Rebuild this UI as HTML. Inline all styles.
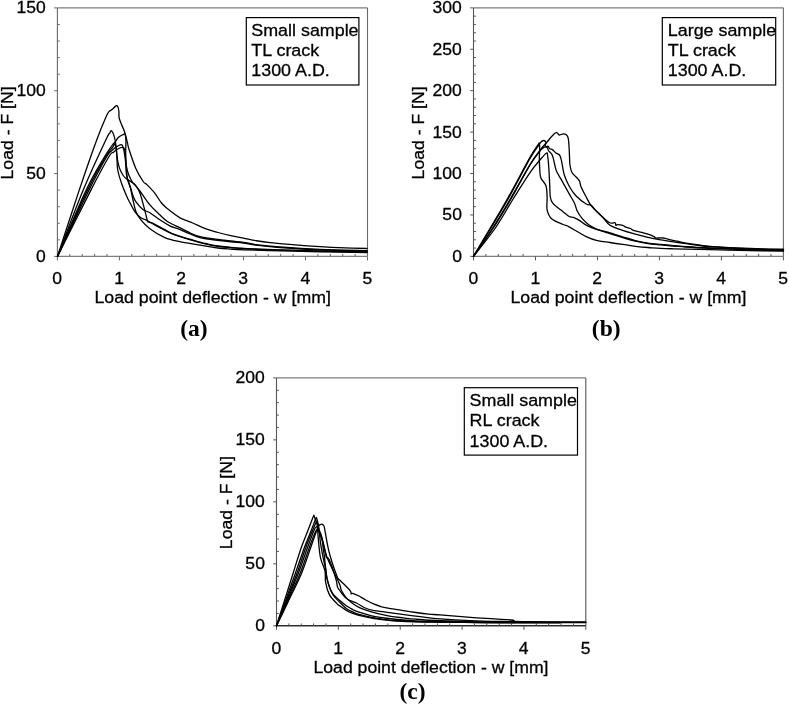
<!DOCTYPE html>
<html lang="en">
<head>
<meta charset="utf-8">
<title>Load - deflection curves</title>
<style>
html, body { margin: 0; padding: 0; background: #fff; }
body { width: 789px; height: 704px; overflow: hidden; }
svg { display: block; }
text { fill: #000; }
.t, .l { font-family: "Liberation Sans", Arial, Helvetica, sans-serif; stroke: #000; stroke-width: 0.3px; }
.t { font-size: 17.2px; }
.l { font-size: 17.3px; }
.c { font-family: "Liberation Serif", "Times New Roman", Times, serif; font-size: 23.5px; font-weight: bold; }
</style>
</head>
<body>
<svg width="789" height="704" viewBox="0 0 789 704">
<rect width="789" height="704" fill="#fff"/>
<g id="plot-a">
<path d="M57.4 7.9H367.5" fill="none" stroke="#7d7d7d" stroke-width="1.1"/>
<path d="M367.5 7.9V256.4" fill="none" stroke="#6a6a6a" stroke-width="1.1"/>
<path d="M57.4 7.9V256.4" fill="none" stroke="#686868" stroke-width="1.1"/>
<path d="M57.4 256.4H367.5" fill="none" stroke="#7d7d7d" stroke-width="1.1"/>
<path d="M57.4 256.4v4M69.8 256.4v-2.4M82.21 256.4v-2.4M94.61 256.4v-2.4M107.02 256.4v-2.4M119.42 256.4v4M131.82 256.4v-2.4M144.23 256.4v-2.4M156.63 256.4v-2.4M169.04 256.4v-2.4M181.44 256.4v4M193.84 256.4v-2.4M206.25 256.4v-2.4M218.65 256.4v-2.4M231.06 256.4v-2.4M243.46 256.4v4M255.86 256.4v-2.4M268.27 256.4v-2.4M280.67 256.4v-2.4M293.08 256.4v-2.4M305.48 256.4v4M317.88 256.4v-2.4M330.29 256.4v-2.4M342.69 256.4v-2.4M355.1 256.4v-2.4M367.5 256.4v4M57.4 256.4h-3.3M57.4 239.83h2.4M57.4 223.27h2.4M57.4 206.7h2.4M57.4 190.13h2.4M57.4 173.57h-3.3M57.4 157h2.4M57.4 140.43h2.4M57.4 123.87h2.4M57.4 107.3h2.4M57.4 90.73h-3.3M57.4 74.17h2.4M57.4 57.6h2.4M57.4 41.03h2.4M57.4 24.47h2.4M57.4 7.9h-3.3" fill="none" stroke="#686868" stroke-width="1"/>
<text class="t" x="57.2" y="284" text-anchor="middle" textLength="9.75" lengthAdjust="spacingAndGlyphs">0</text>
<text class="t" x="119.22" y="284" text-anchor="middle" textLength="9.75" lengthAdjust="spacingAndGlyphs">1</text>
<text class="t" x="181.24" y="284" text-anchor="middle" textLength="9.75" lengthAdjust="spacingAndGlyphs">2</text>
<text class="t" x="243.26" y="284" text-anchor="middle" textLength="9.75" lengthAdjust="spacingAndGlyphs">3</text>
<text class="t" x="305.28" y="284" text-anchor="middle" textLength="9.75" lengthAdjust="spacingAndGlyphs">4</text>
<text class="t" x="367.3" y="284" text-anchor="middle" textLength="9.75" lengthAdjust="spacingAndGlyphs">5</text>
<text class="t" x="45.8" y="261.8" text-anchor="end" textLength="9.75" lengthAdjust="spacingAndGlyphs">0</text>
<text class="t" x="45.8" y="178.97" text-anchor="end" textLength="19.51" lengthAdjust="spacingAndGlyphs">50</text>
<text class="t" x="45.8" y="96.13" text-anchor="end" textLength="29.26" lengthAdjust="spacingAndGlyphs">100</text>
<text class="t" x="45.8" y="13.3" text-anchor="end" textLength="29.26" lengthAdjust="spacingAndGlyphs">150</text>
<text class="l" x="212.7" y="303" text-anchor="middle" textLength="236.5" lengthAdjust="spacingAndGlyphs">Load point deflection - w [mm]</text>
<text class="l" transform="translate(13.1 132.95) rotate(-90)" text-anchor="middle" textLength="93" lengthAdjust="spacingAndGlyphs">Load - F [N]</text>
<g fill="none" stroke="#000" stroke-width="1.3" stroke-linejoin="round" stroke-linecap="round">
<path d="M57.5 256.4C61.1 245.5 72.4 210.5 78.9 191.1C85.4 171.7 92.1 152.5 96.7 140C101.3 127.5 104.3 120.8 106.4 116C108.5 111.2 108.3 112.5 109.2 111.4C110.1 110.3 110.9 110.5 112 109.6C113.1 108.7 115 106.3 116 105.8C117 105.3 117.2 105.6 117.7 106.5C118.2 107.4 118.7 109.4 118.9 111.3C119.1 113.2 118.7 115.7 119.1 117.7C119.5 119.7 120.1 120.9 121.1 123.4C122 125.9 123.8 129.3 124.8 132.5C125.8 135.7 126.7 139.8 127.4 142.7C128.1 145.6 127.8 145.8 129.2 150C130.6 154.2 133.3 162.7 135.6 167.9C137.9 173.2 141.3 178.7 143.2 181.5C145.1 184.3 145 182.7 146.9 184.6C148.8 186.5 152.4 190.1 154.8 193.2C157.2 196.3 159.4 200.4 161.5 203C163.6 205.6 164.4 206.3 167.5 208.8C170.6 211.3 175.8 215.5 180 217.9C184.2 220.3 188.5 221.2 192.7 223C196.9 224.8 201.1 227.1 205.3 228.7C209.5 230.3 213.8 231.3 218 232.5C222.2 233.7 226.5 234.7 230.7 235.6C234.9 236.5 239.2 237.3 243.4 238.2C247.6 239 251.6 240 256 240.7C260.4 241.4 263.5 241.9 270 242.6C276.5 243.3 286.7 244.1 295 244.8C303.3 245.5 311.7 246.1 320 246.6C328.3 247.1 337.2 247.5 345 247.8C352.8 248.1 363.3 248.4 367 248.5"/>
<path d="M57.5 256.4C61.7 245.5 74.8 210.5 82.8 191.1C90.8 171.7 101.3 149.7 105.8 140C110.3 130.3 108.9 134.6 109.8 133C110.7 131.4 110.7 130.5 111.3 130.6C111.9 130.7 112.5 131.9 113.2 133.6C113.9 135.2 114.7 137.8 115.2 140.5C115.7 143.2 116.1 146.5 116.4 149.5C116.7 152.5 116.8 155.2 117 158.6C117.2 162 117 165.9 117.7 170C118.5 174.1 120 178.9 121.5 183.2C123 187.5 125.2 192.7 126.6 196C128 199.3 128.6 200.3 130 202.9C131.4 205.5 133.2 209.3 135 211.8C136.8 214.3 139.1 216.5 140.9 217.8C142.7 219.1 144.1 218.9 145.9 219.8C147.7 220.7 149.2 221.8 151.9 223.3C154.6 224.8 158.5 227 161.8 228.7C165.1 230.4 167.1 231.9 171.7 233.7C176.3 235.5 184.9 238.2 189.6 239.7C194.3 241.2 197.4 242 200 242.7C202.6 243.4 202.3 243.3 205.3 243.9C208.3 244.5 213.8 245.8 218 246.4C222.2 247 226.5 247.3 230.7 247.7C234.9 248.1 239.2 248.3 243.4 248.6C247.6 248.9 249.9 249 256 249.3C262.1 249.6 269.3 249.9 280 250.2C290.7 250.5 305.5 250.9 320 251.2C334.5 251.5 359.2 251.9 367 252"/>
<path d="M57.5 256.4C62.2 245.5 77.9 207.7 85.7 191.1C93.5 174.5 100 164.6 104.4 157C108.8 149.4 110.2 148.1 112 145.5C113.8 142.9 114.5 142.8 115.5 141.5C116.5 140.2 117 138.7 118.3 137.5C119.6 136.3 122.3 135 123.4 134.4C124.5 133.8 124.7 133.2 125.1 134.2C125.5 135.2 125.8 137.6 125.9 140.5C126 143.4 125.7 148.1 125.7 151.8C125.7 155.5 125.7 158.4 126 162.8C126.3 167.2 126.5 173.8 127.3 178.1C128.1 182.4 129.6 184.8 130.5 188.4C131.4 192.1 132.1 196.1 133 200C133.9 203.9 134.7 208.5 136 211.8C137.3 215.1 138.6 217 140.9 219.8C143.2 222.6 145.9 225.7 149.9 228.7C153.9 231.7 159.8 235.5 164.8 237.7C169.8 239.9 173.8 240.5 179.7 241.7C185.6 242.9 193.6 244 200 245.1C206.4 246.2 212.9 247.3 218 248C223.1 248.7 226.5 248.8 230.7 249.1C234.9 249.4 235.2 249.5 243.4 249.8C251.6 250.1 267.2 250.5 280 250.8C292.8 251.1 305.5 251.5 320 251.8C334.5 252.1 359.2 252.4 367 252.5"/>
<path d="M57.5 256.4C62.7 245.5 80.3 207.7 88.5 191.1C96.7 174.5 102.6 163.8 106.5 157C110.4 150.2 110.3 152.2 112 150.5C113.7 148.8 115.3 147.5 116.9 146.5C118.5 145.5 120.4 144.3 121.5 144.6C122.6 144.9 122.9 146.4 123.5 148.5C124.1 150.6 124.6 154.2 125 157C125.4 159.8 125.6 162.5 125.9 165.6C126.2 168.7 125.9 172.1 126.7 175.8C127.5 179.5 129.5 184.3 130.6 187.7C131.7 191.1 132.2 193.6 133.1 196C134 198.4 134.4 199.7 136 201.9C137.6 204.1 140.6 207.6 142.9 209.4C145.2 211.2 147.1 211.1 149.9 212.8C152.7 214.5 156.5 217.6 159.8 219.8C163.1 222 166.8 224.3 169.8 225.8C172.8 227.3 174.4 227.4 177.7 228.7C181 230 185.9 232.2 189.6 233.7C193.3 235.2 196.3 236.7 200 237.7C203.7 238.7 206.6 238.8 211.7 239.5C216.8 240.2 225.4 241.2 230.7 241.8C236 242.4 239.2 242.4 243.4 243C247.6 243.6 249.9 244.4 256 245.2C262.1 246 269.3 246.8 280 247.6C290.7 248.4 305.5 249.2 320 249.8C334.5 250.4 359.2 250.8 367 251"/>
<path d="M57.5 256.4C63 245.5 81.9 207.7 90.4 191.1C98.9 174.5 104.9 163.5 108.7 157C112.5 150.5 112 153.6 113.5 152.3C115 151 116.2 149.8 117.8 149C119.3 148.2 121.6 147.3 122.8 147.5C124 147.7 124.3 148.3 124.8 149.9C125.2 151.5 125.2 154.4 125.5 157C125.8 159.6 125.8 162.8 126.3 165.6C126.8 168.4 127.4 171.4 128.4 174.1C129.4 176.8 131.2 180.2 132.3 182C133.4 183.8 133.7 183.5 135 185C136.3 186.5 137.4 187.7 139.9 191C142.4 194.3 146.6 200.9 149.9 204.9C153.2 208.9 156.8 212 159.8 214.8C162.8 217.6 164.5 219.7 167.8 221.8C171.1 224 176.1 225.9 179.7 227.7C183.3 229.5 186.2 231.2 189.6 232.7C193 234.2 196.3 235.7 200 236.7C203.7 237.7 206.6 237.9 211.7 238.6C216.8 239.3 225.4 240.4 230.7 241C236 241.6 239.2 241.7 243.4 242.3C247.6 242.9 249.9 243.8 256 244.6C262.1 245.4 269.3 246.2 280 247C290.7 247.8 305.5 248.8 320 249.4C334.5 250 359.2 250.4 367 250.6"/>
<path d="M57.5 256.4C62.4 245.5 79 207.7 87 191.1C95 174.5 101.2 164.3 105.5 157C109.8 149.7 110.9 149.7 112.5 147.5C114.1 145.3 114.3 143.9 114.9 144C115.5 144.1 115.7 146 116 148C116.3 150 116.7 153.8 117 156C117.3 158.2 117.4 159.3 117.8 161.3C118.2 163.3 118.7 165.8 119.5 168.1C120.3 170.4 121.8 173.2 122.9 175C124 176.8 124.7 177.5 126.3 178.8C127.9 180.1 130.7 181.4 132.3 182.6C133.9 183.8 134.7 184.1 136 185.8C137.3 187.5 138.6 189.5 139.9 193C141.2 196.5 142.8 202.9 143.9 206.9C145 210.9 145.8 214.4 146.4 216.8C147 219.2 147.2 220.6 147.7 221.5C148.2 222.4 148.3 221.7 149.5 222.2C150.7 222.7 152.3 223.1 154.9 224.3C157.5 225.6 161.5 228 164.8 229.7C168.1 231.4 170.6 233.1 174.7 234.7C178.8 236.3 185.4 237.9 189.6 239.2C193.8 240.4 197.4 241.5 200 242.2C202.6 242.9 202.3 242.9 205.3 243.5C208.3 244.1 213.8 245.4 218 246C222.2 246.6 226.5 246.9 230.7 247.3C234.9 247.7 239.2 248 243.4 248.3C247.6 248.6 249.9 248.7 256 249C262.1 249.3 269.3 249.6 280 249.9C290.7 250.2 305.5 250.6 320 250.9C334.5 251.2 359.2 251.6 367 251.7"/>
</g>
<rect x="246.3" y="17.6" width="112.6" height="67.4" fill="#fff" stroke="#000" stroke-width="1.2"/>
<text class="l" transform="translate(251.3 36) scale(1.034 1)">Small sample</text>
<text class="l" transform="translate(251.3 56.2) scale(1.034 1)">TL crack</text>
<text class="l" transform="translate(251.3 76.4) scale(1.034 1)">1300 A.D.</text>
<text class="c" x="194" y="336" text-anchor="middle">(a)</text>
</g>
<g id="plot-b">
<path d="M473.5 7.87H783.4" fill="none" stroke="#7d7d7d" stroke-width="1.1"/>
<path d="M783.4 7.87V256.35" fill="none" stroke="#6a6a6a" stroke-width="1.1"/>
<path d="M473.5 7.87V256.35" fill="none" stroke="#555" stroke-width="1.1"/>
<path d="M473.5 256.35H783.4" fill="none" stroke="#7d7d7d" stroke-width="1.1"/>
<path d="M473.5 256.35v4M485.9 256.35v-2.4M498.29 256.35v-2.4M510.69 256.35v-2.4M523.08 256.35v-2.4M535.48 256.35v4M547.88 256.35v-2.4M560.27 256.35v-2.4M572.67 256.35v-2.4M585.06 256.35v-2.4M597.46 256.35v4M609.86 256.35v-2.4M622.25 256.35v-2.4M634.65 256.35v-2.4M647.04 256.35v-2.4M659.44 256.35v4M671.84 256.35v-2.4M684.23 256.35v-2.4M696.63 256.35v-2.4M709.02 256.35v-2.4M721.42 256.35v4M733.82 256.35v-2.4M746.21 256.35v-2.4M758.61 256.35v-2.4M771 256.35v-2.4M783.4 256.35v4M473.5 256.35h-3.3M473.5 248.07h2.4M473.5 239.78h2.4M473.5 231.5h2.4M473.5 223.22h2.4M473.5 214.94h-3.3M473.5 206.65h2.4M473.5 198.37h2.4M473.5 190.09h2.4M473.5 181.81h2.4M473.5 173.52h-3.3M473.5 165.24h2.4M473.5 156.96h2.4M473.5 148.68h2.4M473.5 140.39h2.4M473.5 132.11h-3.3M473.5 123.83h2.4M473.5 115.54h2.4M473.5 107.26h2.4M473.5 98.98h2.4M473.5 90.7h-3.3M473.5 82.41h2.4M473.5 74.13h2.4M473.5 65.85h2.4M473.5 57.57h2.4M473.5 49.28h-3.3M473.5 41h2.4M473.5 32.72h2.4M473.5 24.44h2.4M473.5 16.15h2.4M473.5 7.87h-3.3" fill="none" stroke="#555" stroke-width="1"/>
<text class="t" x="473.3" y="283.95" text-anchor="middle" textLength="9.75" lengthAdjust="spacingAndGlyphs">0</text>
<text class="t" x="535.28" y="283.95" text-anchor="middle" textLength="9.75" lengthAdjust="spacingAndGlyphs">1</text>
<text class="t" x="597.26" y="283.95" text-anchor="middle" textLength="9.75" lengthAdjust="spacingAndGlyphs">2</text>
<text class="t" x="659.24" y="283.95" text-anchor="middle" textLength="9.75" lengthAdjust="spacingAndGlyphs">3</text>
<text class="t" x="721.22" y="283.95" text-anchor="middle" textLength="9.75" lengthAdjust="spacingAndGlyphs">4</text>
<text class="t" x="783.2" y="283.95" text-anchor="middle" textLength="9.75" lengthAdjust="spacingAndGlyphs">5</text>
<text class="t" x="461.9" y="261.75" text-anchor="end" textLength="9.75" lengthAdjust="spacingAndGlyphs">0</text>
<text class="t" x="461.9" y="220.34" text-anchor="end" textLength="19.51" lengthAdjust="spacingAndGlyphs">50</text>
<text class="t" x="461.9" y="178.92" text-anchor="end" textLength="29.26" lengthAdjust="spacingAndGlyphs">100</text>
<text class="t" x="461.9" y="137.51" text-anchor="end" textLength="29.26" lengthAdjust="spacingAndGlyphs">150</text>
<text class="t" x="461.9" y="96.1" text-anchor="end" textLength="29.26" lengthAdjust="spacingAndGlyphs">200</text>
<text class="t" x="461.9" y="54.68" text-anchor="end" textLength="29.26" lengthAdjust="spacingAndGlyphs">250</text>
<text class="t" x="461.9" y="13.27" text-anchor="end" textLength="29.26" lengthAdjust="spacingAndGlyphs">300</text>
<text class="l" x="628.5" y="302.95" text-anchor="middle" textLength="236" lengthAdjust="spacingAndGlyphs">Load point deflection - w [mm]</text>
<text class="l" transform="translate(423.7 132.91) rotate(-90)" text-anchor="middle" textLength="93" lengthAdjust="spacingAndGlyphs">Load - F [N]</text>
<g fill="none" stroke="#000" stroke-width="1.3" stroke-linejoin="round" stroke-linecap="round">
<path d="M473.5 256.4C476.2 251.7 484.4 238 490 228.5C495.6 219 500.3 211.3 507 199.5C513.7 187.7 524.8 166.6 530 157.4C535.2 148.2 536.8 146.7 538.3 144.4C539.8 142.1 539 142.9 539.2 143.4C539.4 143.9 539.7 145.1 539.7 147.7C539.7 150.3 539.3 155.7 539.3 159.1C539.3 162.5 539.5 164.9 539.7 168C539.9 171.1 539.7 174.9 540.8 177.8C541.8 180.7 544.8 182.3 545.9 185.5C547 188.7 546.9 192.9 547.1 197C547.3 201.1 546.4 206.2 547.1 209.8C547.9 213.4 548.9 216.2 551.6 218.7C554.3 221.1 560.3 223.2 563.1 224.5C565.9 225.8 565.9 225.2 568.2 226.4C570.6 227.6 574.2 229.8 577.2 231.5C580.2 233.2 583 235.1 586.2 236.6C589.4 238.1 592.4 239.4 596.4 240.4C600.4 241.4 605.6 241.8 610 242.5C614.4 243.2 618.5 243.8 622.7 244.4C626.9 245 631.1 245.8 635.3 246.3C639.5 246.8 643.8 247.2 648 247.5C652.2 247.8 656.5 248.2 660.7 248.4C664.9 248.6 665.2 248.6 673.4 248.8C681.6 249 697.2 249.4 710 249.7C722.8 250 737.8 250.3 750 250.6C762.2 250.8 777.9 251.1 783.5 251.2"/>
<path d="M473.5 256.4C476.4 251.7 484.9 238 490.6 228.5C496.3 219 501.2 211.2 507.8 199.5C514.4 187.8 524.8 167.5 530 158.4C535.2 149.3 537.2 147.5 539 144.8C540.8 142.1 540.3 142.7 541 142C541.7 141.3 542.7 140.6 543.4 140.5C544.1 140.4 544.9 140.9 545.3 141.3C545.7 141.7 546 142.3 546 143C546 143.7 545.2 144.8 545.2 145.5C545.2 146.2 545.6 146.6 546 147C546.4 147.4 547.2 147.4 547.6 148C548 148.6 547.7 149.5 548.4 150.5C549.1 151.5 550.8 152.6 551.6 153.9C552.4 155.2 552.8 156.6 553.3 158.4C553.8 160.2 554.2 162.8 554.8 165C555.4 167.2 555.3 168.4 556.7 171.4C558.1 174.4 561 179.1 563.1 182.9C565.2 186.7 567.6 191 569.5 194.4C571.4 197.8 573.3 200.6 574.6 203.4C575.9 206.2 575.9 208.4 577.2 211C578.5 213.6 580.4 216.4 582.3 218.7C584.2 221 586.4 223.1 588.7 224.8C591.1 226.5 593.9 227.9 596.4 229C598.9 230.1 601.7 230.6 604 231.2C606.3 231.8 606.9 231.9 610 232.8C613.1 233.7 618.5 235.5 622.7 236.8C626.9 238.1 631.1 239.6 635.3 240.6C639.5 241.6 643.8 242.5 648 243.1C652.2 243.7 656.5 244 660.7 244.4C664.9 244.8 669.2 245.2 673.4 245.6C677.6 246 679.9 246.2 686 246.6C692.1 247 699.3 247.4 710 247.9C720.7 248.4 737.8 249 750 249.4C762.2 249.8 777.9 250.1 783.5 250.2"/>
<path d="M473.5 256.4C476.8 251.7 486.8 238 493 228.5C499.2 219 504.5 210.1 510.7 199.5C516.9 188.9 525.1 173.1 530 165C534.9 156.9 537.6 153.8 540 150.8C542.4 147.8 543.1 147.9 544.2 147.2C545.3 146.5 545.8 146.7 546.5 146.6C547.2 146.5 547.6 146 548.2 146.4C548.8 146.8 549.1 148.2 549.9 148.8C550.6 149.3 551.8 149.2 552.7 149.9C553.7 150.6 554.5 151.8 555.6 152.7C556.7 153.5 558.6 153.9 559.5 155C560.4 156.1 560.8 157.8 561.2 159.5C561.7 161.2 561.8 162.4 562.3 165C562.8 167.6 563.2 171.6 564.4 175.2C565.6 178.8 567.6 183.3 569.5 186.7C571.4 190.1 573.1 192.8 575.9 195.7C578.7 198.6 583.6 202.4 586.2 204C588.8 205.6 589.8 204.3 591.3 205.3C592.8 206.3 593.2 207.8 595.1 209.8C597 211.8 600.3 214.8 602.8 217.4C605.3 220 606.7 223.1 610 225.3C613.3 227.5 618.5 228.9 622.7 230.4C626.9 231.9 631.1 233 635.3 234.2C639.5 235.4 643.8 236.4 648 237.4C652.2 238.4 656.5 239.2 660.7 239.9C664.9 240.6 669.2 241.2 673.4 241.8C677.6 242.4 681.8 243.1 686 243.7C690.2 244.3 694.7 244.9 698.7 245.4C702.7 245.9 701.5 246 710 246.6C718.5 247.2 737.8 248.3 750 248.8C762.2 249.3 777.9 249.5 783.5 249.6"/>
<path d="M473.5 256.4C476.6 251.7 486.2 238 492.3 228.5C498.4 219 503.7 210.2 510 199.5C516.3 188.8 524.8 173 530 164.6C535.2 156.2 538.2 152.7 541 149C543.8 145.3 545.1 144.4 546.7 142.5C548.3 140.6 549.5 138.9 550.7 137.5C551.9 136.1 553.2 134.7 554.1 133.9C555 133.1 555.6 132.8 556.2 132.7C556.8 132.6 557.3 132.8 557.8 133.2C558.3 133.6 558.3 134.9 559.2 135C560.1 135.1 562 133.9 563.2 133.9C564.4 133.9 565.8 134.2 566.6 135C567.5 135.8 567.9 136.5 568.3 138.6C568.7 140.7 568.9 144.3 569.1 147.7C569.3 151.1 569.5 156.2 569.6 159.1C569.8 162 569.6 162.7 570 165C570.4 167.3 570.6 170.1 572.1 172.7C573.6 175.2 577.6 178 579.1 180.3C580.6 182.6 579.8 183.9 581 186.7C582.2 189.5 584.5 193.8 586.2 197C587.9 200.2 589.2 203.1 591.3 205.9C593.4 208.7 595.9 210.8 598.9 213.6C601.9 216.4 606.5 221 609.2 222.5C611.9 224 614 222.3 615.1 222.8C616.2 223.3 615.3 225 615.7 225.3C616.1 225.6 616.4 224.7 617.6 224.7C618.8 224.7 621.3 224.9 622.7 225.3C624.1 225.7 624.5 226.7 625.8 227.2C627.1 227.7 629 228 630.3 228.5C631.6 229 631.5 229.8 633.4 230.4C635.3 231 639.3 231.7 641.7 232.3C644.1 232.9 645.9 233.4 648 234.2C650.1 234.9 653.1 236.2 654.4 236.8C655.7 237.4 654.1 237.8 655.6 238C657.1 238.2 660.7 237.7 663.2 238C665.7 238.3 668.5 239.4 670.8 239.9C673.1 240.4 674.7 240.7 677.2 241.2C679.7 241.7 682.4 242.5 686 243.1C689.6 243.7 694.7 244.5 698.7 245C702.7 245.5 701.5 245.7 710 246.3C718.5 246.9 737.8 248 750 248.5C762.2 249 777.9 249.1 783.5 249.2"/>
<path d="M473.5 256.4C477.1 251.7 488.4 238 495 228.5C501.6 219 507 208.8 512.8 199.5C518.6 190.2 525.5 179.2 530 172.6C534.5 166 537.2 163.3 540 160C542.8 156.7 545.2 153.7 546.5 153C547.8 152.3 547.2 153.6 547.6 155.6C548 157.6 548.2 160.2 548.6 165C549 169.8 549.4 178.9 549.7 184.2C550 189.5 549.8 193.8 550.3 197C550.8 200.2 551.2 201.3 552.9 203.4C554.6 205.5 557.9 207.7 560.6 209.8C563.3 211.9 566.8 214.9 568.9 216.2C571 217.5 571.6 216.7 573.4 217.4C575.2 218.1 577.7 219.3 579.8 220.6C581.9 221.9 583 223.5 586.2 225.1C589.4 226.7 594.9 228.8 598.9 230.2C602.9 231.6 606 232.4 610 233.6C614 234.8 618.5 236.3 622.7 237.6C626.9 238.9 631.1 240.2 635.3 241.2C639.5 242.2 643.8 243 648 243.6C652.2 244.2 656.5 244.5 660.7 244.9C664.9 245.3 669.2 245.7 673.4 246C677.6 246.3 679.9 246.6 686 247C692.1 247.4 699.3 247.8 710 248.3C720.7 248.8 737.8 249.4 750 249.8C762.2 250.2 777.9 250.5 783.5 250.6"/>
</g>
<rect x="662.3" y="17.6" width="113.4" height="67.4" fill="#fff" stroke="#000" stroke-width="1.2"/>
<text class="l" transform="translate(667.8 36) scale(1.034 1)">Large sample</text>
<text class="l" transform="translate(667.8 56.2) scale(1.034 1)">TL crack</text>
<text class="l" transform="translate(667.8 76.4) scale(1.034 1)">1300 A.D.</text>
<text class="c" x="606.2" y="336" text-anchor="middle">(b)</text>
</g>
<g id="plot-c">
<path d="M276.5 377.9H585.8" fill="none" stroke="#7d7d7d" stroke-width="1.1"/>
<path d="M585.8 377.9V625.8" fill="none" stroke="#555" stroke-width="1.1"/>
<path d="M276.5 377.9V625.8" fill="none" stroke="#555" stroke-width="1.1"/>
<path d="M276.5 625.8H585.8" fill="none" stroke="#2e2e2e" stroke-width="1.4"/>
<path d="M276.5 625.8v4M288.87 625.8v-2.4M301.24 625.8v-2.4M313.62 625.8v-2.4M325.99 625.8v-2.4M338.36 625.8v4M350.73 625.8v-2.4M363.1 625.8v-2.4M375.48 625.8v-2.4M387.85 625.8v-2.4M400.22 625.8v4M412.59 625.8v-2.4M424.96 625.8v-2.4M437.34 625.8v-2.4M449.71 625.8v-2.4M462.08 625.8v4M474.45 625.8v-2.4M486.82 625.8v-2.4M499.2 625.8v-2.4M511.57 625.8v-2.4M523.94 625.8v4M536.31 625.8v-2.4M548.68 625.8v-2.4M561.06 625.8v-2.4M573.43 625.8v-2.4M585.8 625.8v4M276.5 625.8h-3.3M276.5 613.4h2.4M276.5 601.01h2.4M276.5 588.62h2.4M276.5 576.22h2.4M276.5 563.82h-3.3M276.5 551.43h2.4M276.5 539.03h2.4M276.5 526.64h2.4M276.5 514.25h2.4M276.5 501.85h-3.3M276.5 489.45h2.4M276.5 477.06h2.4M276.5 464.66h2.4M276.5 452.27h2.4M276.5 439.88h-3.3M276.5 427.48h2.4M276.5 415.08h2.4M276.5 402.69h2.4M276.5 390.29h2.4M276.5 377.9h-3.3" fill="none" stroke="#555" stroke-width="1"/>
<text class="t" x="276.3" y="653.7" text-anchor="middle" textLength="9.75" lengthAdjust="spacingAndGlyphs">0</text>
<text class="t" x="338.16" y="653.7" text-anchor="middle" textLength="9.75" lengthAdjust="spacingAndGlyphs">1</text>
<text class="t" x="400.02" y="653.7" text-anchor="middle" textLength="9.75" lengthAdjust="spacingAndGlyphs">2</text>
<text class="t" x="461.88" y="653.7" text-anchor="middle" textLength="9.75" lengthAdjust="spacingAndGlyphs">3</text>
<text class="t" x="523.74" y="653.7" text-anchor="middle" textLength="9.75" lengthAdjust="spacingAndGlyphs">4</text>
<text class="t" x="585.6" y="653.7" text-anchor="middle" textLength="9.75" lengthAdjust="spacingAndGlyphs">5</text>
<text class="t" x="264.9" y="631.2" text-anchor="end" textLength="9.75" lengthAdjust="spacingAndGlyphs">0</text>
<text class="t" x="264.9" y="569.22" text-anchor="end" textLength="19.51" lengthAdjust="spacingAndGlyphs">50</text>
<text class="t" x="264.9" y="507.25" text-anchor="end" textLength="29.26" lengthAdjust="spacingAndGlyphs">100</text>
<text class="t" x="264.9" y="445.27" text-anchor="end" textLength="29.26" lengthAdjust="spacingAndGlyphs">150</text>
<text class="t" x="264.9" y="383.3" text-anchor="end" textLength="29.26" lengthAdjust="spacingAndGlyphs">200</text>
<text class="l" x="431" y="672.7" text-anchor="middle" textLength="235" lengthAdjust="spacingAndGlyphs">Load point deflection - w [mm]</text>
<text class="l" transform="translate(232.2 502.65) rotate(-90)" text-anchor="middle" textLength="93" lengthAdjust="spacingAndGlyphs">Load - F [N]</text>
<g fill="none" stroke="#000" stroke-width="1.3" stroke-linejoin="round" stroke-linecap="round">
<path d="M276.5 625.8C277.8 621.7 281.5 610 284.3 601.1C287.1 592.2 290.5 581.7 293.3 572.7C296.1 563.7 298.9 554.3 301.4 547.2C303.9 540.1 306.2 535 308.1 530C310 525 311.9 520 312.9 517.5C313.9 515 313.7 515.6 313.9 515.2C314.1 515.8 314.6 517.4 315 518.5C315.4 519.6 315.9 520.7 316.3 522C316.7 523.3 317.2 523.9 317.5 526.5C317.8 529.1 317.7 532.8 318.2 537.9C318.7 543 319.3 551.8 320.4 557.3C321.5 562.8 324 566.5 324.9 570.7C325.8 574.9 324.9 578.7 325.7 582.7C326.4 586.7 327.5 591.1 329.4 594.6C331.3 598.1 335.1 601.7 336.9 603.6C338.7 605.5 338.4 604.9 340 606C341.6 607.1 344.2 609.2 346.3 610.4C348.4 611.6 350.6 612.5 352.7 613.3C354.8 614.1 355.8 614.6 359 615.4C362.2 616.2 367.5 617.4 371.7 618.1C375.9 618.9 380.2 619.4 384.4 619.9C388.6 620.4 391.7 620.7 397 621C402.3 621.3 408.8 621.6 416 621.8C423.2 622 429.3 622.1 440 622.2C450.7 622.3 466.7 622.5 480 622.6C493.3 622.7 506.7 622.8 520 622.8C533.3 622.8 553.3 622.9 560 622.9"/>
<path d="M276.5 625.8C278 621.7 282.1 610 285.3 601.1C288.5 592.2 292.4 581.7 295.6 572.7C298.8 563.7 301.9 554.3 304.5 547.2C307.1 540.1 309.6 534.6 311.4 530C313.2 525.4 314.6 521.6 315.4 519.5C316.2 517.4 316.1 517.8 316.3 517.5C316.5 518 317 519.2 317.3 520.5C317.6 521.8 318 523.6 318.3 525C318.6 526.4 318.6 526.1 319 529C319.4 531.9 319.7 537.4 320.4 542.4C321.1 547.4 322.5 554.3 323.4 558.8C324.3 563.3 325.1 565.8 325.7 569.3C326.3 572.8 326.1 575.7 327.2 579.7C328.3 583.7 330.3 589.6 332.4 593.1C334.5 596.6 337.6 598.5 339.9 600.6C342.2 602.7 344.2 604.3 346.3 605.8C348.4 607.3 350.6 608.4 352.7 609.5C354.8 610.6 355.8 611.2 359 612.2C362.2 613.2 367.5 614.8 371.7 615.8C375.9 616.8 380.2 617.4 384.4 618C388.6 618.6 391.7 619 397 619.5C402.3 620 408.8 620.5 416 620.9C423.2 621.2 429.3 621.4 440 621.6C450.7 621.8 466.7 622.1 480 622.2C493.3 622.4 502.4 622.4 520 622.5C537.6 622.6 574.8 622.6 585.8 622.6"/>
<path d="M276.5 625.8C278.5 621.7 284.2 610 288.4 601.1C292.6 592.2 298.1 581.7 301.8 572.7C305.5 563.7 308.3 554.3 310.8 547.2C313.3 540.1 315.6 533.4 316.8 530C318 526.6 317.8 527.6 318.2 526.8C318.6 526 318.9 525.6 319.3 525.2C319.7 524.8 320 524.7 320.4 524.5C320.8 524.3 321.4 524.1 321.9 524.2C322.4 524.3 322.8 524.6 323.2 525C323.6 525.4 323.8 525.1 324.2 526.7C324.6 528.4 325.1 531.5 325.7 534.9C326.3 538.3 327.2 543.4 327.9 546.9C328.6 550.4 329.1 552.3 330.1 555.8C331.1 559.3 332.6 564.1 333.9 567.8C335.1 571.4 336.6 575.6 337.6 577.7C338.6 579.8 338.6 578.8 340 580.3C341.4 581.8 344.5 584.7 346.3 586.5C348.1 588.3 349.8 590.1 350.6 591.3C351.4 592.5 350.9 593.5 351 593.9C351.3 593.8 351.4 593 352.7 593.4C354 593.8 356.9 594.9 359 596C361.1 597.1 362.8 598.4 365.3 599.8C367.8 601.2 371.4 603 374.2 604.2C376.9 605.4 379.1 606 381.8 606.8C384.6 607.5 387.1 608.1 390.7 608.7C394.3 609.3 399.2 610 403.4 610.6C407.6 611.2 411.8 611.9 416 612.5C420.2 613.1 424.7 613.7 428.7 614.1C432.7 614.5 433 614.4 440 614.9C447 615.4 458.8 616.5 470.6 617.4C482.5 618.2 503.7 619.3 511.1 620C518.5 620.7 508.4 621.1 515.2 621.4C522 621.7 539.9 621.8 551.7 621.9C563.5 622 580.1 621.9 585.8 621.9"/>
<path d="M276.5 625.8C278.2 621.7 283.1 610 286.8 601.1C290.5 592.2 295.1 581.7 298.6 572.7C302.1 563.7 305 554.3 307.6 547.2C310.2 540.1 312.8 533.4 314.2 530C315.6 526.6 315.8 527.6 316.3 527C316.8 526.4 317.1 526.4 317.2 526.3C317.4 526.6 317.9 527.2 318.3 528C318.7 528.8 319 529.8 319.5 531C320 532.2 320.3 531.9 321.2 535C322.1 538.1 324 546.2 324.9 549.9C325.8 553.6 325.8 555.8 326.4 557.3C327 558.8 327.7 557 328.7 558.8C329.7 560.5 331.2 564.3 332.4 567.8C333.6 571.3 335.2 576.5 336.1 579.7C337 582.9 336.9 585.2 337.6 587.2C338.4 589.2 339.8 590.4 340.6 591.6C341.4 592.8 341.3 593 342.5 594.3C343.7 595.6 345.3 597.8 347.6 599.2C349.9 600.7 353.6 601.5 356.5 603C359.4 604.5 362.4 606.7 365.3 608C368.2 609.3 371 610 374.2 610.6C377.4 611.2 380.6 611.3 384.4 611.8C388.2 612.3 392.8 613.1 397 613.7C401.2 614.3 405.5 614.9 409.7 615.4C413.9 615.9 417.3 616.3 422.4 616.9C427.4 617.5 432.1 618.2 440 618.8C447.9 619.4 458.3 620.1 470 620.6C481.7 621.1 495 621.3 510 621.6C525 621.9 551.7 622.2 560 622.3"/>
<path d="M276.5 625.8C278.4 621.7 283.6 610 287.6 601.1C291.6 592.2 296.8 581.7 300.4 572.7C304 563.7 306.9 554.1 309.4 547.2C311.9 540.3 314.2 534.4 315.6 531.5C317 528.6 317.3 530 317.6 529.7C317.8 530 318.4 530.8 318.8 531.5C319.2 532.2 319.4 532.4 320 534C320.6 535.6 321.4 537.4 322.5 541C323.6 544.6 324.8 550.8 326.4 555.5C328 560.2 330.7 565.6 332.4 569.3C334.1 573 335.2 574.9 336.5 577.5C337.8 580.1 339.2 583 340 585.2C340.8 587.4 340.4 588.4 341.5 590.5C342.6 592.6 344.4 595.7 346.3 597.9C348.2 600.1 350.6 602 352.7 603.6C354.8 605.2 356.9 606.4 359 607.4C361.1 608.4 362.1 608.8 365.3 609.9C368.5 611 373.8 612.6 378 613.7C382.2 614.8 386.5 615.6 390.7 616.3C394.9 617 399.2 617.4 403.4 617.9C407.6 618.4 409.9 618.7 416 619.2C422.1 619.7 429.3 620.3 440 620.7C450.7 621.1 466.7 621.5 480 621.8C493.3 622.1 502.4 622.2 520 622.3C537.6 622.4 574.8 622.4 585.8 622.4"/>
<path d="M276.5 625.8C278.1 621.7 282.8 610 286.2 601.1C289.6 592.2 293.9 581.7 297.2 572.7C300.5 563.7 303.3 554.3 305.9 547.2C308.5 540.1 311.1 534 312.8 530C314.5 526 315.1 524.4 315.8 523C316.5 521.6 316.6 521.8 316.8 521.5C317 521.9 317.5 522.5 317.8 524C318.1 525.5 318.4 528.8 318.9 530.6C319.4 532.4 320 533.1 320.6 534.8C321.2 536.5 321.9 538.7 322.3 540.8C322.7 542.9 322.8 545 323.1 547.6C323.5 550.2 324 553.3 324.4 556.2C324.8 559.1 324.9 561.9 325.3 565C325.7 568.1 325.9 571.5 326.5 575C327.1 578.5 327.9 582.7 329 586C330.1 589.3 331.2 592.2 333 595C334.8 597.8 337.8 600.3 340 602.5C342.2 604.7 344.2 606.8 346.3 608.4C348.4 610 350.6 610.9 352.7 611.9C354.8 612.9 355.8 613.5 359 614.4C362.2 615.3 367.5 616.7 371.7 617.5C375.9 618.3 380.2 618.9 384.4 619.4C388.6 619.9 391.7 620.3 397 620.7C402.3 621.1 408.8 621.5 416 621.7C423.2 621.9 429.3 621.9 440 622C450.7 622.1 467.5 622.4 480 622.5C492.5 622.6 509.2 622.7 515 622.7"/>
</g>
<rect x="464.3" y="387.7" width="113.2" height="67.4" fill="#fff" stroke="#000" stroke-width="1.2"/>
<text class="l" transform="translate(469.6 406.1) scale(1.034 1)">Small sample</text>
<text class="l" transform="translate(469.6 426.3) scale(1.034 1)">RL crack</text>
<text class="l" transform="translate(469.6 446.5) scale(1.034 1)">1300 A.D.</text>
<text class="c" x="412.6" y="698.6" text-anchor="middle">(c)</text>
</g>
</svg>
</body>
</html>
